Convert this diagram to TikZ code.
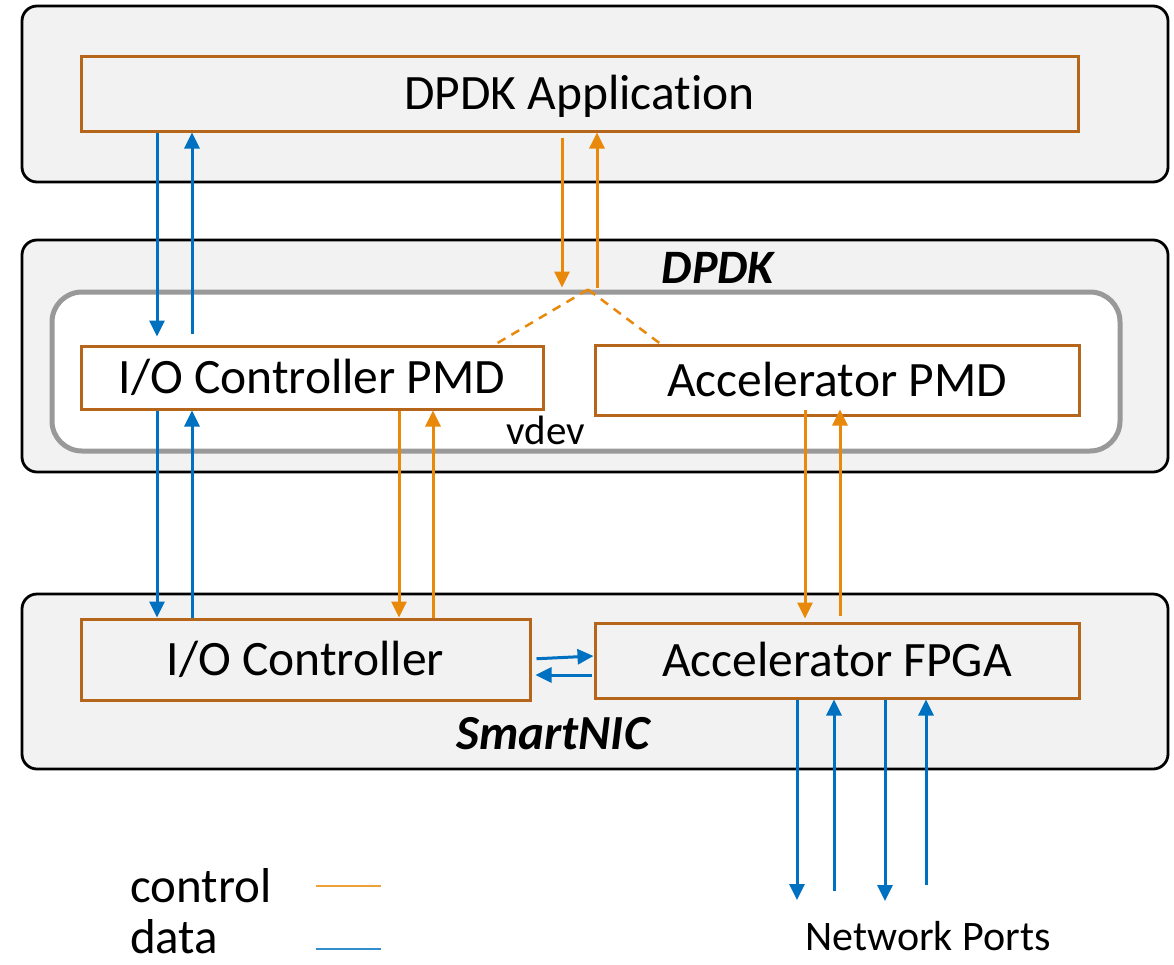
\documentclass[tikz,border=0pt]{standalone}
\usepackage{fontspec}
\setmainfont{Carlito}[Ligatures=NoCommon]
\usetikzlibrary{arrows.meta}
\definecolor{panel}{HTML}{F2F2F2}
\definecolor{boxline}{HTML}{B5661B}
\definecolor{ctrl}{HTML}{E8890C}
\definecolor{datab}{HTML}{0070C0}
\definecolor{vdevline}{HTML}{999999}
\tikzset{
  layer/.style={draw=black, line width=2.8pt, fill=panel, rounded corners=15pt},
  compbox/.style={draw=boxline, line width=3pt, inner sep=0pt, text height=32pt, text depth=0pt,
    font=\fontsize{49.5}{59}\selectfont},
  dataarr/.style={draw=datab, line width=3pt, -{Triangle[width=15pt,length=16pt]}},
  ctrlarr/.style={draw=ctrl, line width=3pt, -{Triangle[width=15pt,length=16pt]}},
  ctrldash/.style={draw=ctrl, line width=2.5pt, dash pattern=on 9pt off 7pt},
  lbl/.style={inner sep=0pt, anchor=base},
}
\begin{document}
\begin{tikzpicture}[x=1pt,y=-1pt]
\useasboundingbox (0,0) rectangle (1174,964);
% layers
\node[layer, minimum width=1146pt, minimum height=176pt, inner sep=0pt] (top) at (595,94) {};
\node[layer, minimum width=1146pt, minimum height=232pt, inner sep=0pt] (mid) at (595,356) {};
\node[layer, minimum width=1146pt, minimum height=175pt, inner sep=0pt] (bot) at (595,681.5) {};
\node[draw=vdevline, line width=5pt, fill=white, rounded corners=30pt, minimum width=1068pt, minimum height=159pt, inner sep=0pt] (vdev) at (586,371.5) {};
% labels
\node[lbl, font=\fontsize{48}{57}\selectfont\bfseries\itshape] (dpdklbl) at (718,283) {DPDK};
\node[lbl, font=\fontsize{49}{59}\selectfont\bfseries\itshape] (snlbl) at (553,749) {SmartNIC};
\node[lbl, font=\fontsize{41}{50}\selectfont] (vdevlbl) at (546,444) {vdev};
\node[lbl, font=\fontsize{42}{50}\selectfont] (netlbl) at (928,950) {Network Ports};
% components
\node[compbox, fill=panel, minimum width=997pt, minimum height=75pt] (app) at (579.5,93.5) {DPDK Application};
\node[compbox, fill=white, minimum width=462pt, minimum height=63pt] (iopmd) at (312,377.5) {I/O Controller PMD};
\node[compbox, fill=white, minimum width=484pt, minimum height=70pt] (accpmd) at (837,380) {Accelerator PMD};
\node[compbox, fill=panel, minimum width=449pt, minimum height=81pt] (ioc) at (305.5,659.5) {I/O Controller};
\node[compbox, fill=panel, minimum width=484pt, minimum height=75pt] (fpga) at (837,660.5) {Accelerator FPGA};
% data arrows app <-> io pmd
\draw[dataarr, shorten >=8pt] (app.south -| 157,0) -- (iopmd.north -| 157,0);
\draw[dataarr, shorten <=11pt] (iopmd.north -| 192,0) -- (app.south -| 192,0);
% data arrows io pmd <-> io controller
\draw[dataarr] (iopmd.south -| 157,0) -- (ioc.north -| 157,0);
\draw[dataarr] (ioc.north -| 192,0) -- (iopmd.south -| 192,0);
% control arrows app <-> vdev
\draw[ctrlarr, shorten <=5pt, shorten >=2pt] (app.south -| 562,0) -- (vdev.north -| 562,0);
\draw[ctrlarr, shorten <=2pt] (vdev.north -| 597,0) -- (app.south -| 597,0);
% dashed fan-out
\coordinate (apex) at (vdev.north -| 588,0);
\draw[ctrldash] (apex) -- (iopmd.north -| 495,0);
\draw[ctrldash] (apex) -- (accpmd.north -| 660,0);
% control io pmd <-> io controller
\draw[ctrlarr] (iopmd.south -| 399,0) -- (ioc.north -| 399,0);
\draw[ctrlarr] (ioc.north -| 433,0) -- (iopmd.south -| 433,0);
% control acc pmd <-> fpga
\draw[ctrlarr, shorten <=-7pt, shorten >=3pt] (accpmd.south -| 805,0) -- (fpga.north -| 805,0);
\draw[ctrlarr, shorten <=6pt, shorten >=-7pt] (fpga.north -| 840,0) -- (accpmd.south -| 840,0);
% data io controller <-> fpga
\draw[dataarr, shorten <=5pt] (ioc.east |- 0,659) -- (fpga.west |- 0,656);
\draw[dataarr, shorten <=2pt, shorten >=4pt] (fpga.west |- 0,675) -- (ioc.east |- 0,675);
% network ports
\coordinate (p1) at (797,900);
\coordinate (p2) at (834,891);
\coordinate (p3) at (885,901);
\coordinate (p4) at (926,885);
\draw[dataarr] (fpga.south -| p1) -- (p1);
\draw[dataarr] (p2) -- (fpga.south -| p2);
\draw[dataarr] (fpga.south -| p3) -- (p3);
\draw[dataarr] (p4) -- (fpga.south -| p4);
% legend
\node[lbl, anchor=base west, font=\fontsize{49}{59}\selectfont] (lgc) at (130,902) {control};
\node[lbl, anchor=base west, font=\fontsize{49}{59}\selectfont] (lgd) at (130,953) {data};
\coordinate (lc1) at (316,886);
\coordinate (lc2) at (381,886);
\coordinate (ld1) at (316,949);
\coordinate (ld2) at (381,949);
\draw[draw=ctrl!80, line width=1.8pt] (lc1) -- (lc2);
\draw[draw=datab!80, line width=1.8pt] (ld1) -- (ld2);
\end{tikzpicture}
\end{document}
